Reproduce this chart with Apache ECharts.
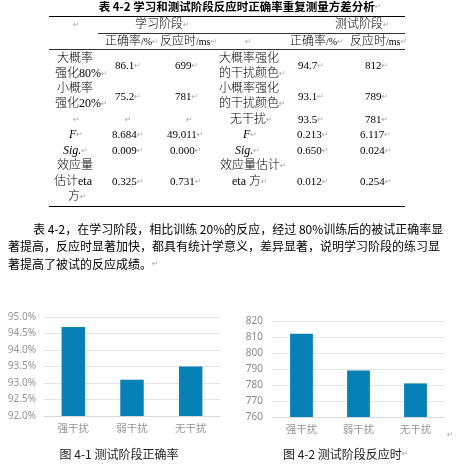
<!DOCTYPE html>
<html><head><meta charset="utf-8">
<script src="https://cdn.jsdelivr.net/npm/echarts@6/dist/echarts.min.js"></script>
<style>html,body{margin:0;padding:0;background:#fff}#c{width:463px;height:464px}</style>
</head><body><div id="c"></div>
<script>
// ---- chart data ----
const categories = ['强干扰', '弱干扰', '无干扰'];
const accuracyValues = [94.7, 93.1, 93.5];      // 图 4-1 测试阶段正确率 (%)
const rtValues = [812, 789, 781];               // 图 4-2 测试阶段反应时 (ms)
const accuracyTicks = { min: 92, max: 95, interval: 0.5 };
const rtTicks = { min: 760, max: 820, interval: 10 };

// ---- table data ----
const tableTitle = '表 4-2 学习和测试阶段反应时正确率重复测量方差分析';
const groupHeaders = ['学习阶段', '测试阶段'];
const colHeaders = ['正确率/%', '反应时/ms'];
const learnLabels = [['大概率', '强化80%'], ['小概率', '强化20%']];
const learnAcc = ['86.1', '75.2'];
const learnRt = ['699', '781'];
const testLabels = [['大概率强化', '的干扰颜色'], ['小概率强化', '的干扰颜色'], ['无干扰']];
const testAcc = ['94.7', '93.1', '93.5'];
const testRt = ['812', '789', '781'];
const learnStats = { F: ['8.684', '49.011'], Sig: ['0.009', '0.000'], eta: ['0.325', '0.731'] };
const testStats = { F: ['0.213', '6.117'], Sig: ['0.650', '0.024'], eta: ['0.012', '0.254'] };
const paragraph = [
  '表 4-2，在学习阶段，相比训练 20%的反应，经过 80%训练后的被试正确率显',
  '著提高，反应时显著加快，都具有统计学意义，差异显著，说明学习阶段的练习显',
  '著提高了被试的反应成绩。'
];
const captions = ['图 4-1 测试阶段正确率', '图 4-2 测试阶段反应时'];

const TF = '"Liberation Serif","Noto Sans CJK SC",serif';
const SF = '"Noto Sans CJK SC","Noto Sans",sans-serif';
const M = '{r|↵}';
function T(x, y, text, o) {
  o = o || {};
  return { type: 'text', x: x, y: y, silent: true, style: {
    text: text, align: o.align || 'left', verticalAlign: 'middle',
    fontSize: o.size || 12, fontFamily: o.family || TF,
    fontWeight: o.weight || '300', fontStyle: o.style || 'normal',
    fill: o.color || '#000',
    rich: { r: { fill: '#a8a8a8', fontSize: 8, fontFamily: 'DejaVu Sans' },
            s: { fontSize: 10, fontFamily: TF, fill: o.color || '#000' } }
  }};
}
function L(x1, y1, x2, y2, w) {
  return { type: 'line', silent: true, shape: { x1: x1, y1: y1, x2: x2, y2: y2 },
    style: { stroke: '#000', lineWidth: w || 1 } };
}
function hdr(h) { const p = h.split('/'); return p[0] + '{s|/' + p[1] + '}'; }
const NS = 11;
const g = [];
g.push(T(240, 7, tableTitle + M, { align: 'center', size: 11.5, weight: 'bold', family: SF }));
g.push(L(49, 16.5, 405, 16.5, 1));
g.push(L(98, 33.5, 405, 33.5, 0.8));
g.push(L(49, 49.5, 405, 49.5, 0.8));
g.push(L(49, 206.5, 405, 206.5, 1));
// header rows
g.push(T(73, 25, M));
g.push(T(135, 25, groupHeaders[0] + M));
g.push(T(335, 25, groupHeaders[1] + M));
g.push(T(105, 42, hdr(colHeaders[0]) + M));
g.push(T(160, 42, hdr(colHeaders[1]) + M));
g.push(T(245, 42, M));
g.push(T(290, 42, hdr(colHeaders[0]) + M));
g.push(T(350, 42, hdr(colHeaders[1]) + M));
// data rows
const rowY = [[59, 74, 66], [89, 104, 97]];
for (let i = 0; i < 2; i++) {
  g.push(T(75, rowY[i][0], learnLabels[i][0], { align: 'center' }));
  g.push(T(55, rowY[i][1], learnLabels[i][1] + M));
  g.push(T(115, rowY[i][2], learnAcc[i] + M, { size: NS }));
  g.push(T(175, rowY[i][2], learnRt[i] + M, { size: NS }));
  g.push(T(219, rowY[i][0], testLabels[i][0]));
  g.push(T(219, rowY[i][1], testLabels[i][1] + M));
  g.push(T(298, rowY[i][2], testAcc[i] + M, { size: NS }));
  g.push(T(365, rowY[i][2], testRt[i] + M, { size: NS }));
}
g.push(T(73, 120, M)); g.push(T(125, 120, M)); g.push(T(186, 120, M));
g.push(T(230, 120, testLabels[2][0] + M));
g.push(T(298, 120, testAcc[2] + M, { size: NS }));
g.push(T(365, 120, testRt[2] + M, { size: NS }));
// stats
g.push(T(69, 135, 'F' + M, { style: 'italic' }));
g.push(T(112, 135, learnStats.F[0] + M, { size: NS }));
g.push(T(167, 135, learnStats.F[1] + M, { size: NS }));
g.push(T(243, 135, 'F' + M, { style: 'italic' }));
g.push(T(297, 135, testStats.F[0] + M, { size: NS }));
g.push(T(360, 135, testStats.F[1] + M, { size: NS }));
g.push(T(63, 151, 'Sig.' + M, { style: 'italic' }));
g.push(T(112, 151, learnStats.Sig[0] + M, { size: NS }));
g.push(T(170, 151, learnStats.Sig[1] + M, { size: NS }));
g.push(T(235, 151, 'Sig.' + M, { style: 'italic' }));
g.push(T(297, 151, testStats.Sig[0] + M, { size: NS }));
g.push(T(360, 151, testStats.Sig[1] + M, { size: NS }));
g.push(T(57, 166, '效应量'));
g.push(T(54, 182, '估计eta'));
g.push(T(68, 197, '方' + M));
g.push(T(112, 182, learnStats.eta[0] + M, { size: NS }));
g.push(T(170, 182, learnStats.eta[1] + M, { size: NS }));
g.push(T(220, 166, '效应量估计' + M));
g.push(T(232, 182, 'eta 方' + M));
g.push(T(297, 182, testStats.eta[0] + M, { size: NS }));
g.push(T(360, 182, testStats.eta[1] + M, { size: NS }));
// paragraph
g.push(T(33, 229, paragraph[0], { family: SF, weight: 'normal' }));
g.push(T(8, 246.5, paragraph[1], { family: SF, weight: 'normal' }));
g.push(T(8, 264, paragraph[2] + M, { family: SF, weight: 'normal' }));
// captions
g.push(T(119, 454, captions[0], { align: 'center', family: SF, color: '#222', weight: 'normal' }));
g.push(T(283, 454, captions[1] + M, { family: SF, color: '#222', weight: 'normal' }));
g.push(T(447, 435, M));

const chart = echarts.init(document.getElementById('c'), null, { renderer: 'canvas' });
const axisLabelColor = '#959595';
function xa(i) {
  return { type: 'category', gridIndex: i, data: categories,
    axisTick: { show: false }, axisLine: { lineStyle: { color: '#d9d9d9' } },
    axisLabel: { color: axisLabelColor, fontSize: 10.5, margin: 7, fontFamily: SF } };
}
chart.setOption({
  animation: false,
  grid: [
    { left: 44, top: 317, width: 176, height: 99 },
    { left: 273, top: 321, width: 171, height: 96 }
  ],
  xAxis: [xa(0), xa(1)],
  yAxis: [
    { type: 'value', gridIndex: 0, min: accuracyTicks.min, max: accuracyTicks.max, interval: accuracyTicks.interval,
      axisLabel: { formatter: v => v.toFixed(1) + '%', color: axisLabelColor, fontSize: 10, margin: 8, fontFamily: 'Noto Sans' },
      splitLine: { lineStyle: { color: '#e4e4e4' } } },
    { type: 'value', gridIndex: 1, min: rtTicks.min, max: rtTicks.max, interval: rtTicks.interval,
      axisLabel: { color: '#8a8a8a', fontSize: 10, margin: 10, fontFamily: 'Noto Sans' },
      splitLine: { lineStyle: { color: '#e4e4e4' } } }
  ],
  series: [
    { type: 'bar', xAxisIndex: 0, yAxisIndex: 0, data: accuracyValues, barWidth: '40%', itemStyle: { color: '#0780b5' } },
    { type: 'bar', xAxisIndex: 1, yAxisIndex: 1, data: rtValues, barWidth: '40%', itemStyle: { color: '#0780b5' } }
  ],
  graphic: g
});
</script></body></html>
